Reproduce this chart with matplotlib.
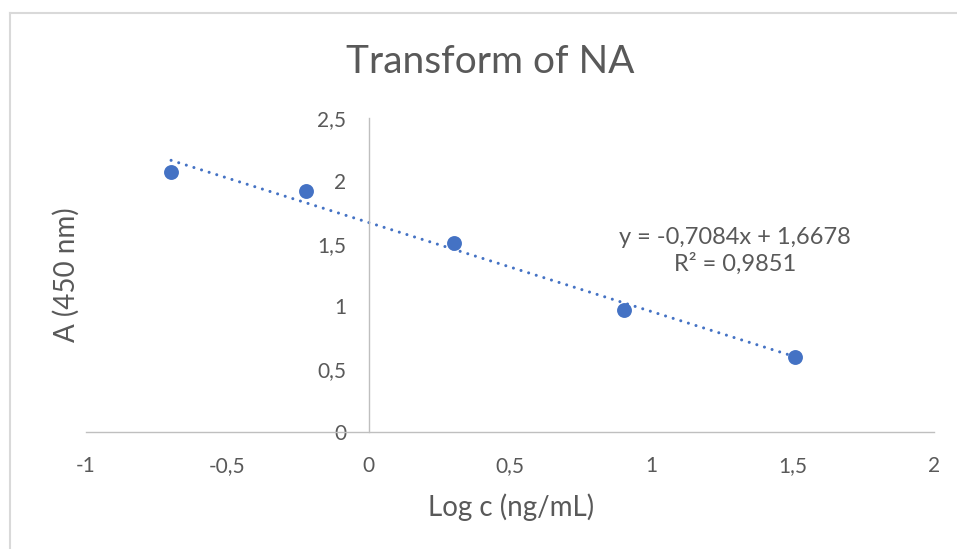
import numpy as np
import matplotlib.pyplot as plt
from matplotlib.lines import Line2D

# Datos
log_c = [-0.699, -0.222, 0.301, 0.903, 1.507]
absorbancia = [2.068, 1.919, 1.507, 0.972, 0.597]

# Línea de tendencia (de la ecuación mostrada)
pendiente = -0.7084
intercepto = 1.6678
r2_texto = "0,9851"

x_ticks = [-1, -0.5, 0, 0.5, 1, 1.5, 2]
x_tick_labels = ["-1", "-0,5", "0", "0,5", "1", "1,5", "2"]
y_ticks = [0, 0.5, 1, 1.5, 2, 2.5]
y_tick_labels = ["0", "0,5", "1", "1,5", "2", "2,5"]

azul = "#4472C4"
gris_texto = "#595959"
gris_eje = "#BFBFBF"

plt.rcParams['font.family'] = ['Lato', 'DejaVu Sans']

W, H = 957, 549
fig = plt.figure(figsize=(W / 100, H / 100), dpi=100)

def fx(px):
    return px / W

def fy(py):
    return 1 - py / H

ax = fig.add_axes([fx(86), fy(432), (934 - 86) / W, (432 - 118) / H])
ax.set_xlim(-1, 2)
ax.set_ylim(0, 2.5)

# Ejes cruzando en el origen, estilo Excel
for lado in ['top', 'right']:
    ax.spines[lado].set_visible(False)
ax.spines['left'].set_position(('data', 0))
ax.spines['bottom'].set_position(('data', 0))
for lado in ['left', 'bottom']:
    ax.spines[lado].set_color(gris_eje)
    ax.spines[lado].set_linewidth(1.0)

ax.set_xticks(x_ticks)
ax.set_xticklabels(x_tick_labels)
ax.set_yticks(y_ticks)
ax.set_yticklabels(y_tick_labels)
ax.tick_params(axis='both', length=0, labelsize=15, labelcolor=gris_texto)
ax.tick_params(axis='x', pad=17)
ax.tick_params(axis='y', pad=16)
ax.patch.set_alpha(0)

# Línea de tendencia
x_tend = np.array([min(log_c), max(log_c)])
y_tend = pendiente * x_tend + intercepto
ax.plot(x_tend, y_tend, color=azul, linewidth=2.2,
        linestyle=(0, (0.01, 2.6)), dash_capstyle='round', zorder=2)

# Puntos
ax.scatter(log_c, absorbancia, s=115, color=azul, zorder=3, linewidths=0)

# Textos
fig.text(fx(490), fy(62), "Transform of NA", ha='center', va='center',
         fontsize=28, color=gris_texto)
fig.text(fx(511), fy(507), "Log c (ng/mL)", ha='center', va='center',
         fontsize=20, color=gris_texto)
fig.text(fx(66), fy(275), "A (450 nm)", ha='center', va='center',
         rotation=90, fontsize=20, color=gris_texto)

ecuacion = f"y = {pendiente:.4f}x + {intercepto:.4f}".replace('.', ',')
fig.text(fx(735), fy(251), ecuacion + "\nR² = " + r2_texto, ha='center',
         va='center', fontsize=17, color=gris_texto, linespacing=1.25)

# Borde del área del gráfico
fig.add_artist(Line2D([fx(10), 1], [fy(13), fy(13)], color="#D9D9D9",
                      linewidth=1.5, transform=fig.transFigure))
fig.add_artist(Line2D([fx(10), fx(10)], [fy(13), 0], color="#D9D9D9",
                      linewidth=1.5, transform=fig.transFigure))

fig.savefig("out.png", dpi=100)
